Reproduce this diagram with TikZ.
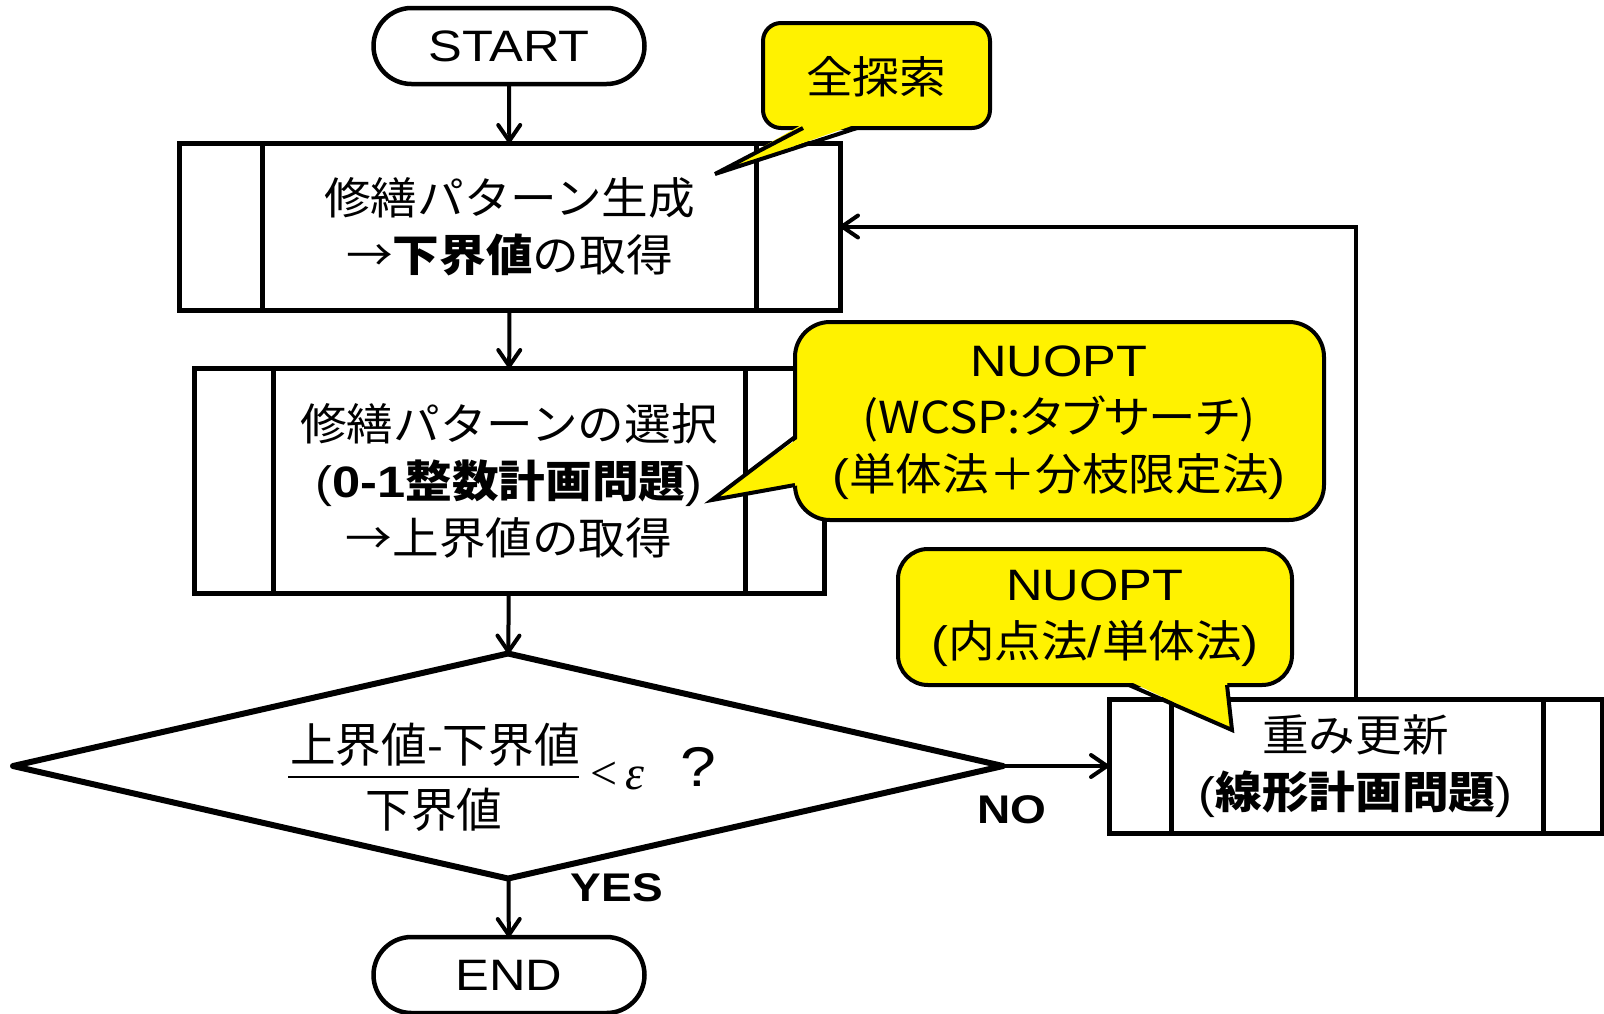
\documentclass[tikz,border=0pt]{standalone}
\usepackage{fontspec}
\setmainfont{Liberation Sans}[FakeStretch=1.15]
\newfontfamily\jp{Noto Sans CJK JP}[FakeStretch=1.06]
\newfontfamily\jpp{Noto Sans CJK JP}[FakeStretch=1.08,RawFeature=+palt]
\newfontfamily\jpf{Noto Sans CJK JP}[FakeStretch=0.97]
\newfontfamily\serf{Liberation Serif}
\newcommand\J[1]{{\jp #1}}
\usetikzlibrary{shapes.misc,shapes.geometric,arrows.meta}
\begin{document}
\begin{tikzpicture}[x=1pt,y=-1pt,
  every node/.style={font=\fontsize{44}{57}\selectfont, inner sep=0pt, outer sep=0pt},
  term/.style={draw, line width=4.5pt, rounded rectangle, minimum width=271pt, minimum height=76pt},
  proc/.style={draw, line width=5pt, rectangle, align=center},
  inner/.style={line width=5pt},
  arr/.style={line width=4pt, -{Straight Barb[length=16pt,width=22pt,line cap=round,line join=round]}},
  callbox/.style={draw, fill=yellow, line width=4pt},
  callptr/.style={draw, line width=4pt, line join=miter},
  lbl/.style={font=\fontsize{40}{48}\selectfont\bfseries}
]
\useasboundingbox (0,0) rectangle (1604,1013);

% terminals and processes
\node[term] (start) at (509,46) {START};
\node[proc, minimum width=661pt, minimum height=167pt] (b1) at (509.5,226.5)
  {\J{修繕パターン生成}\\\J{→}\textbf{\J{下界値}}\J{の取得}};
\draw[inner] (262,143) -- (262,310) (756,143) -- (756,310);

\node[proc, minimum width=630pt, minimum height=225pt] (b2) at (509,480.5)
  {\J{修繕パターンの選択}\\(\textbf{0-1\J{整数計画問題}})\\\J{→上界値の取得}};
\draw[inner] (273,368) -- (273,593) (745,368) -- (745,593);

\node[draw, diamond, line width=6pt, line join=round, minimum width=990pt, minimum height=225pt] (dia) at (508,766) {};
\node (num) at (435,745) {\jpf\fontsize{47}{57}\selectfont 上界値-下界値};
\node (den) at (434,810) {\jpf\fontsize{47}{57}\selectfont 下界値};
\draw[line width=2pt] (288,777) -- (579,777);
\node[anchor=base west] (eps) at (590,789) {\serf\fontsize{48}{50}\selectfont <\hspace{8pt}\itshape ε};
\node (q) at (698,767) {\fontsize{56}{60}\selectfont ?};

\node[term] (end) at (509,975) {END};

\node[proc, minimum width=493pt, minimum height=134pt] (b4) at (1355.5,766)
  {\J{重み更新}\\(\textbf{\J{線形計画問題}})};
\draw[inner] (1171,699) -- (1171,833) (1543,699) -- (1543,833);

% connectors
\draw[arr] (start) -- (b1);
\draw[arr] (b1) -- (b2);
\draw[arr] (b2) -- (dia);
\draw[arr] (dia) -- (end);
\draw[arr] (dia.east) -- (b4.west);
\draw[arr] (b4.north) |- (b1.east);

\node[lbl] (yes) at (617,888) {YES};
\node[lbl] (no) at (1012,810) {NO};

% callout 1
\draw[callbox, rounded corners=18pt] (763,23) rectangle (990,128);
\fill[yellow] (803,124) -- (715,174) -- (857,124) -- cycle;
\draw[callptr] (803,128) -- (715,174) -- (857,128);
% callout 2
\draw[callbox, rounded corners=35pt] (795,322) rectangle (1324,520);
\fill[yellow] (800,437) -- (712,500) -- (800,485) -- cycle;
\draw[callptr] (795,437) -- (712,500) -- (795,485);
% callout 3
\draw[callbox, rounded corners=30pt] (898,549) rectangle (1292,685);
\fill[yellow] (1129,681) -- (1232,730) -- (1227,681) -- cycle;
\draw[callptr] (1129,685) -- (1232,730) -- (1227,685);

\node (c1) at (876,77) {\J{全探索}};
\node[align=center] (c2) at (1059,423) {NUOPT\\{\jpp (WCSP:タブサーチ)}\\(\J{単体法＋分枝限定法})};
\node[align=center] (c3) at (1095,618) {NUOPT\\(\J{内点法}/\J{単体法})};
\end{tikzpicture}
\end{document}
